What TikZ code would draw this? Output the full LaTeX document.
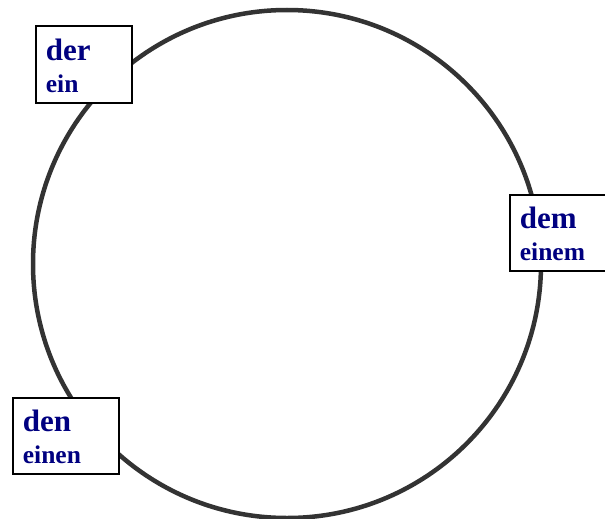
\documentclass[tikz,border=0pt]{standalone}
\usepackage{fontspec}
\setmainfont{Liberation Serif}
\definecolor{artikel}{RGB}{0,0,128}
\definecolor{ring}{RGB}{51,51,51}
\newcommand{\gross}[1]{{\fontsize{31}{32}\selectfont\rule{0pt}{24pt}#1}}

\begin{document}
\begin{tikzpicture}[x=1pt, y=-1pt,
		kasus/.style={draw, line width=1.8pt, fill=white, anchor=north west, align=left,
			inner xsep=10pt, inner ysep=0pt, minimum height=77pt, text=artikel,
			font=\bfseries\fontsize{25.5}{32}\selectfont}]
				\useasboundingbox (0, 0) rectangle (605, 519);
				\coordinate (mitte) at (287, 264);
				\draw[line width=4.5pt, ring] (mitte) circle[radius=254pt];
				
				\node[kasus, text width=76pt] (nom) at (35, 25) {\gross{der}\\ein};
				\node[kasus, text width=78pt, minimum height=76pt] (dat) at (509, 194) {\gross{dem}\\einem};
				\node[kasus, text width=86pt, minimum height=76pt] (akk) at (12, 397) {\gross{den}\\einen};
			\end{tikzpicture}
\end{document}
